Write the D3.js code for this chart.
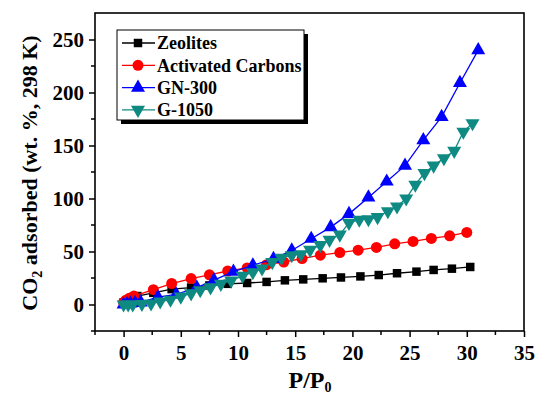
<!DOCTYPE html>
<html lang="en">
<head>
  <meta charset="UTF-8">
  <script src="https://d3js.org/d3.v7.min.js"></script>
  <style>
    body { margin: 0; background: #fff; }
    svg { display: block; font-family: "Liberation Serif", "Times New Roman", serif; font-weight: bold; }
  </style>
</head>
<body>
  <script>
    const width = 537;
    const height = 397;

    // data
    const zeoX = [0, 0.3, 0.7, 1.2, 2.6, 4.2, 5.9, 7.5, 9.1, 10.8, 12.5, 14.1, 15.7, 17.4, 19.0, 20.7, 22.3, 23.9, 25.6, 27.1, 28.7, 30.3];
    const zeoY = [2, 4, 6, 8, 11, 14.5, 16, 18, 19.5, 20.3, 21.3, 22.8, 23.7, 24.7, 25.5, 26.5, 27.8, 29.5, 31, 32.6, 33.8, 35.4];

    const acX = [0, 0.2, 0.5, 0.9, 2.6, 4.2, 5.9, 7.5, 9.1, 10.8, 12.5, 14.0, 15.6, 17.2, 18.9, 20.5, 22.1, 23.7, 25.3, 26.9, 28.5, 30.0];
    const acY = [2, 4, 6, 8, 14, 19.8, 24.5, 28, 31.6, 34.5, 37.6, 40.1, 43.3, 46.5, 49, 51.2, 53.8, 57.2, 59.5, 62.3, 64.8, 68];

    const gnX = [0, 0.3, 0.6, 1.0, 1.5, 3.0, 4.6, 6.4, 7.9, 9.6, 11.3, 13.1, 14.7, 16.4, 18.1, 19.7, 21.4, 23.0, 24.6, 26.2, 27.8, 29.4, 31.0];
    const gnY = [0, 0.5, 1, 1.5, 2, 7, 9.5, 16, 23, 31, 37, 43, 51, 62, 73, 85.5, 101, 116, 131, 155, 177, 209, 240];

    const gX = [0, 0.4, 0.8, 1.6, 2.4, 3.2, 4.1, 5.0, 5.9, 6.7, 7.6, 8.5, 9.4, 10.4, 11.3, 12.1, 13.0, 13.8, 14.7, 15.5, 16.3, 17.2, 18.0, 18.9, 19.7, 20.6, 21.4, 22.2, 23.1, 23.9, 24.7, 25.5, 26.3, 27.1, 28.0, 28.9, 29.7, 30.5];
    const gY = [0, 0, 0, 0.5, 1, 2.8, 4.5, 7.5, 10.5, 13.5, 16.2, 19.5, 22.5, 27, 30.5, 34, 40, 44, 46.5, 47.4, 51.5, 56, 61, 66, 77, 80, 80.5, 82.5, 88, 92.5, 100, 113, 124, 131, 138, 145, 163, 171];

    const seriesNames = ["Zeolites", "Activated Carbons", "GN-300", "G-1050"];
    const seriesColors = ["#000000", "#ff0000", "#0000ff", "#0e8a83"];
    const seriesShapes = ["square", "circle", "up", "down"];
    const seriesXs = [zeoX, acX, gnX, gX];
    const seriesYs = [zeoY, acY, gnY, gY];

    const xTicks = [0, 5, 10, 15, 20, 25, 30, 35];
    const yTicks = [0, 50, 100, 150, 200, 250];

    const plot = { left: 95, right: 524, top: 13, bottom: 331 };

    const x = d3.scaleLinear().domain([-2.5, 35]).range([plot.left, plot.right]);
    const y = d3.scaleLinear().domain([-25, 275]).range([plot.bottom, plot.top]);

    const svg = d3.select("body").append("svg")
      .attr("width", width)
      .attr("height", height);

    // axes
    const xMinor = d3.range(-2.5, 35, 5);
    const yMinor = d3.range(-25, 275, 50);

    const xAxis = svg.append("g").attr("transform", `translate(0,${plot.bottom})`);
    xAxis.call(d3.axisBottom(x).tickValues(xTicks).tickSize(6).tickPadding(5).tickFormat(d3.format("d")));
    xAxis.selectAll(".minor").data(xMinor).enter().append("line")
      .attr("x1", d => x(d)).attr("x2", d => x(d)).attr("y1", 0).attr("y2", 4)
      .attr("stroke", "#000").attr("stroke-width", 1.5);

    const yAxis = svg.append("g").attr("transform", `translate(${plot.left},0)`);
    yAxis.call(d3.axisLeft(y).tickValues(yTicks).tickSize(6).tickPadding(5).tickFormat(d3.format("d")));
    yAxis.selectAll(".minor").data(yMinor).enter().append("line")
      .attr("y1", d => y(d)).attr("y2", d => y(d)).attr("x1", 0).attr("x2", -4)
      .attr("stroke", "#000").attr("stroke-width", 1.5);

    svg.selectAll(".domain").remove();
    svg.selectAll(".tick line").attr("stroke-width", 1.5);
    svg.selectAll(".tick text")
      .attr("font-family", "Liberation Serif, serif")
      .attr("font-weight", "bold")
      .attr("font-size", 21)
      .attr("fill", "#000");
    xAxis.selectAll(".tick text").attr("dy", "0.85em");

    // frame
    svg.append("rect")
      .attr("x", plot.left).attr("y", plot.top)
      .attr("width", plot.right - plot.left).attr("height", plot.bottom - plot.top)
      .attr("fill", "none").attr("stroke", "#000").attr("stroke-width", 1.6);

    // series
    const line = d3.line().x(d => x(d[0])).y(d => y(d[1]));
    const sym = {
      square: d3.symbol().type(d3.symbolSquare).size(72),
      circle: d3.symbol().type(d3.symbolCircle).size(95),
      up: d3.symbol().type(d3.symbolTriangle).size(85),
      down: d3.symbol().type(d3.symbolTriangle).size(85)
    };

    seriesNames.forEach((name, i) => {
      const pts = seriesXs[i].map((v, j) => [v, seriesYs[i][j]]);
      const g = svg.append("g");
      g.append("path").datum(pts)
        .attr("d", line)
        .attr("fill", "none")
        .attr("stroke", seriesColors[i])
        .attr("stroke-width", 1.3);
      g.selectAll("path.m").data(pts).enter().append("path")
        .attr("class", "m")
        .attr("d", sym[seriesShapes[i]])
        .attr("transform", d => `translate(${x(d[0])},${y(d[1])})` + (seriesShapes[i] === "down" ? " rotate(180)" : ""))
        .attr("fill", seriesColors[i]);
    });

    // legend
    const lg = svg.append("g");
    const lx = 117, ly = 30, lw = 187, lh = 90;
    lg.append("rect").attr("x", lx + 4).attr("y", ly + 4).attr("width", lw).attr("height", lh).attr("fill", "#000");
    lg.append("rect").attr("x", lx).attr("y", ly).attr("width", lw).attr("height", lh)
      .attr("fill", "#fff").attr("stroke", "#000").attr("stroke-width", 1);
    seriesNames.forEach((name, i) => {
      const cy = 43 + i * 22.3;
      lg.append("line").attr("x1", 122).attr("x2", 155).attr("y1", cy).attr("y2", cy)
        .attr("stroke", seriesColors[i]).attr("stroke-width", 1.3);
      lg.append("path").attr("d", sym[seriesShapes[i]])
        .attr("transform", `translate(138,${cy})` + (seriesShapes[i] === "down" ? " rotate(180)" : ""))
        .attr("fill", seriesColors[i]);
      lg.append("text").attr("x", 157).attr("y", cy).attr("dy", "0.35em")
        .attr("font-size", 18).text(name);
    });

    // axis titles
    const xt = svg.append("text").attr("x", 310).attr("y", 388)
      .attr("text-anchor", "middle").attr("font-size", 24);
    xt.append("tspan").text("P/P");
    xt.append("tspan").attr("font-size", 14).attr("dy", 4).text("0");

    const yt = svg.append("text")
      .attr("transform", "translate(37,173) rotate(-90)")
      .attr("text-anchor", "middle").attr("font-size", 22);
    yt.append("tspan").text("CO");
    yt.append("tspan").attr("font-size", 14).attr("dy", 5).text("2");
    yt.append("tspan").attr("dy", -5).text(" adsorbed (wt. %, 298 K)");
  </script>
</body>
</html>
